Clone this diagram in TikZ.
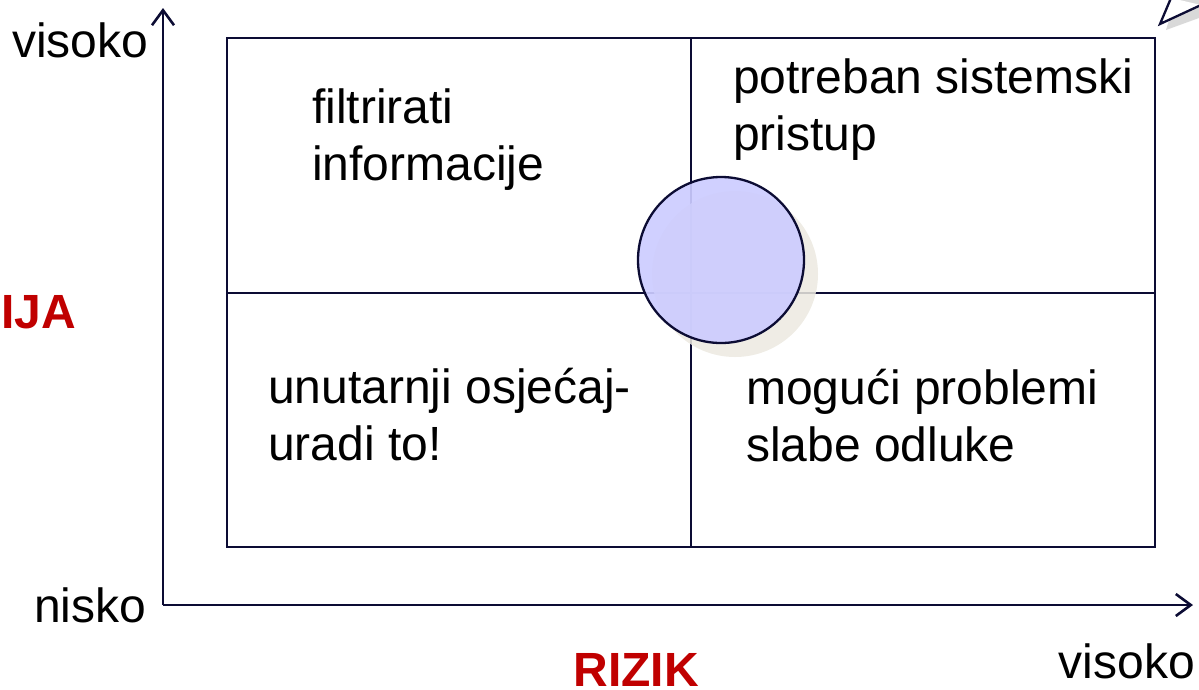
\documentclass[tikz,border=0pt]{standalone}
\usepackage{fontspec}
\setmainfont{Liberation Sans}
\usetikzlibrary{arrows.meta}
\definecolor{navy}{RGB}{12,12,52}
\definecolor{darkred}{RGB}{192,0,0}
\definecolor{circfill}{RGB}{204,204,255}
\definecolor{shadowc}{RGB}{236,233,224}
\tikzset{
  x=1pt, y=-1pt,
  gridline/.style={draw=navy, line width=2.3pt},
  axisline/.style={draw=navy, line width=2.6pt, -{Straight Barb[length=15pt,width=22pt,line width=2.6pt]}},
  quadtext/.style={inner sep=0pt, anchor=base west, align=left, font=\fontsize{48}{57}\selectfont},
  axistext/.style={inner sep=0pt, font=\fontsize{48}{57}\selectfont},
  redtext/.style={inner sep=0pt, text=darkred, font=\fontsize{48}{57}\selectfont\bfseries},
}
\begin{document}
\begin{tikzpicture}
\useasboundingbox (0,0) rectangle (1199,689);
\clip (0,0) rectangle (1199,689);
% callout pointer (cut off at top right)
\fill[gray!30] (1175,0) -- (1166,30) -- (1199,18) -- (1199,0) -- cycle;
\filldraw[fill=white, draw=navy, line width=2.3pt] (1171,-2) -- (1160,24) -- (1201,5);
% grid
\draw[gridline] (227,38) rectangle (1155,547);
\coordinate (tm) at (691,38);
\coordinate (bm) at (691,547);
\coordinate (lm) at (227,293);
\coordinate (rm) at (1155,293);
\draw[gridline] (tm) -- (bm);
\draw[gridline] (lm) -- (rm);
% axes
\coordinate (origin) at (163,605);
\coordinate (ytip) at (163,8);
\coordinate (xtip) at (1193,605);
\draw[axisline] (origin) -- (ytip);
\draw[axisline] (origin) -- (xtip);
% circle with shadow
\fill[shadowc, opacity=0.85] (735,274) circle (83);
\filldraw[fill=circfill, fill opacity=0.92, draw=navy, line width=2.3pt] (721,260) circle (83);
% quadrant texts (anchor = baseline of last line)
\node[quadtext] (q1) at (312,180) {filtrirati\\informacije};
\node[quadtext] (q2) at (733,150) {potreban sistemski\\pristup};
\node[quadtext] (q3) at (268,460) {unutarnji osjećaj-\\uradi to!};
\node[quadtext] (q4) at (746,461) {mogući problemi\\slabe odluke};
% axis labels
\node[axistext, anchor=base west] (yhigh) at (12,57) {visoko};
\node[axistext, anchor=base west] (ylow) at (34,622) {nisko};
\node[axistext, anchor=base east] (xhigh) at (1195,678) {visoko};
\node[redtext, anchor=base east] (ylab) at (76,328) {IJA};
\node[redtext, anchor=base] (xlab) at (636,686) {RIZIK};
\end{tikzpicture}
\end{document}
